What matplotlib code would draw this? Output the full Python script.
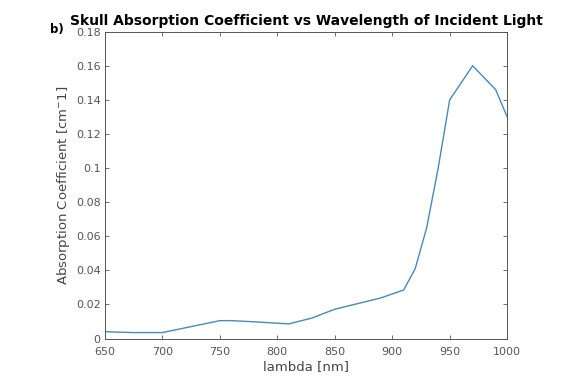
import numpy as np
import matplotlib
matplotlib.use('Agg')
import matplotlib.pyplot as plt
from matplotlib.ticker import FuncFormatter

# Skull absorption coefficient against wavelength
wavelength = [650, 675, 700, 725, 750, 760, 780, 800, 810, 830, 850, 870, 890, 910,
              920, 930, 940, 950, 970, 990, 1000]
mu_a = [0.0040, 0.0035, 0.0035, 0.0070, 0.0105, 0.0105, 0.0098, 0.0090, 0.0086, 0.0120,
        0.0172, 0.0205, 0.0238, 0.0285, 0.0410, 0.0650, 0.1000, 0.1400, 0.1600, 0.1460,
        0.1300]

xticks = [650, 700, 750, 800, 850, 900, 950, 1000]
yticks = [0, 0.02, 0.04, 0.06, 0.08, 0.1, 0.12, 0.14, 0.16, 0.18]

plt.rcParams['font.family'] = 'DejaVu Sans'
axis_grey = '#555555'

fig = plt.figure(figsize=(5.61, 3.77), dpi=100)
ax = fig.add_axes([0.187, 0.102, 0.717, 0.814])

ax.plot(wavelength, mu_a, color='#4a8ab5', linewidth=1.0)

ax.set_xlim(650, 1000)
ax.set_ylim(0, 0.18)
ax.set_xticks(xticks)
ax.set_yticks(yticks)
ax.yaxis.set_major_formatter(FuncFormatter(lambda v, p: '%g' % round(v, 4)))

ax.tick_params(direction='in', length=3, width=0.6, top=True, right=True,
               labelsize=8, colors=axis_grey, labelcolor=axis_grey)
ax.tick_params(axis='x', pad=6)
ax.tick_params(axis='y', pad=3)
for s in ax.spines.values():
    s.set_color(axis_grey)
    s.set_linewidth(0.7)

ax.set_xlabel('lambda [nm]', fontsize=9.5, color='#444444', labelpad=2)
ax.set_ylabel(r'Absorption Coefficient [cm$^{-}$1]', fontsize=9.5, color='#444444', labelpad=3)
ax.set_title('Skull Absorption Coefficient vs Wavelength of Incident Light',
             fontsize=10, fontweight='bold', pad=5)
fig.text(0.09, 0.912, 'b)', fontsize=8.5, fontweight='bold')

fig.savefig('out.png', dpi=100)
